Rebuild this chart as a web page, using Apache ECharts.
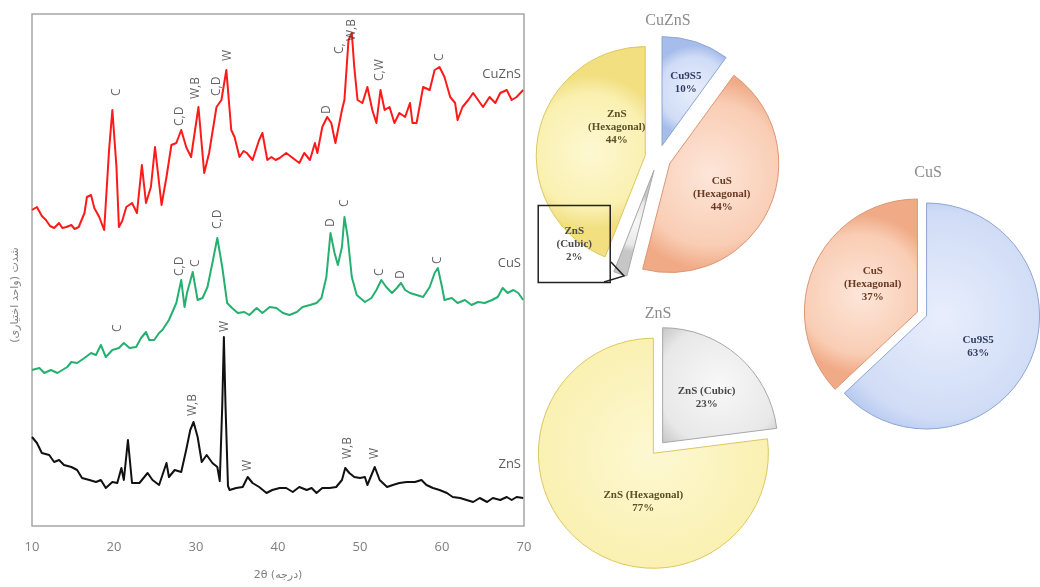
<!DOCTYPE html>
<html>
<head>
<meta charset="utf-8">
<script src="https://cdn.jsdelivr.net/npm/echarts@6.0.0/dist/echarts.min.js"></script>
<style>
  html, body { margin: 0; padding: 0; background: #fff; }
  #chart { width: 1040px; height: 587px; }
</style>
</head>
<body>
<div id="chart"></div>
<script>
// XRD patterns, [2θ, intensity] (arbitrary units, traces already stacked)
const cuznsXrd = [
  [10.0,316],[10.6,319],[11.2,310],[11.7,306],[12.2,300],[12.7,298],[13.3,303],[13.7,298],[14.2,299],[14.8,301],[15.2,297],[15.7,299],
  [16.4,313],[16.7,329],[17.2,331],[17.6,318],[18.2,309],[18.8,296],[19.4,376],[19.8,416],[20.3,359],[20.6,299],[21.0,305],[21.5,319],
  [22.2,323],[22.8,313],[23.4,361],[23.9,323],[24.5,339],[25.0,379],[25.4,350],[25.8,321],[26.4,349],[27.0,381],[27.6,383],[28.2,396],
  [28.8,379],[29.4,369],[30.3,419],[31.0,353],[31.6,373],[32.5,419],[33.1,426],[33.7,456],[34.3,396],[34.7,389],[35.3,369],[35.8,375],
  [36.2,373],[36.9,366],[37.7,386],[38.1,393],[38.7,366],[39.2,369],[39.7,366],[40.2,368],[41.0,373],[41.8,368],[42.6,363],[43.2,373],
  [43.9,366],[44.5,383],[44.8,373],[45.4,399],[46.0,409],[46.5,403],[47.0,383],[47.8,416],[48.1,426],[48.6,486],[49.0,493],[49.3,459],
  [49.7,426],[50.3,423],[50.9,439],[51.5,416],[52.0,403],[52.5,436],[53.0,416],[53.6,419],[54.2,403],[54.8,413],[55.5,409],[56.1,423],
  [56.4,403],[56.9,403],[57.7,439],[58.5,436],[59.1,456],[59.7,459],[60.3,449],[61.0,429],[61.6,423],[61.9,406],[62.5,419],[63.2,426],
  [63.8,433],[64.4,426],[65.0,419],[65.8,429],[66.5,423],[67.1,433],[67.9,436],[68.5,426],[69.1,429],[69.9,436]
];
const cusXrd = [
  [10.0,156],[10.9,158],[11.5,153],[12.3,156],[13.1,153],[13.7,156],[14.3,159],[14.8,164],[15.5,163],[16.4,168],[17.2,173],[17.8,171],
  [18.4,181],[19.0,169],[19.8,176],[20.6,178],[21.2,183],[21.9,178],[22.7,179],[23.3,188],[23.9,194],[24.3,186],[24.9,186],[25.5,193],
  [25.9,196],[26.7,206],[27.6,223],[28.2,246],[28.6,219],[28.9,233],[29.6,254],[30.2,226],[30.8,228],[31.4,239],[32.0,263],[32.6,288],
  [33.2,259],[33.8,223],[34.4,218],[35.1,213],[35.9,214],[36.5,211],[37.4,218],[38.1,213],[39.0,219],[39.8,218],[40.6,213],[41.4,211],
  [42.3,214],[43.0,219],[43.9,221],[44.7,223],[45.3,228],[45.9,249],[46.4,293],[46.9,273],[47.3,261],[47.8,279],[48.1,309],[48.5,289],
  [49.0,249],[49.6,231],[50.6,224],[51.4,228],[52.0,236],[52.6,246],[53.2,239],[53.9,233],[54.5,238],[55.0,243],[55.5,236],[56.1,233],
  [56.9,231],[57.7,229],[58.5,239],[59.1,253],[59.5,258],[60.0,239],[60.3,226],[61.2,228],[61.9,223],[62.8,226],[63.6,221],[64.4,224],
  [65.2,223],[66.1,226],[66.8,229],[67.4,238],[68.0,233],[68.7,236],[69.3,233],[69.9,226]
];
const znsXrd = [
  [10.0,89],[10.6,83],[11.2,73],[12.1,71],[12.7,64],[13.3,66],[13.9,61],[14.8,59],[15.5,56],[16.1,48],[17.0,46],[17.8,44],
  [18.4,46],[19.0,38],[19.8,44],[20.4,43],[20.9,58],[21.2,46],[21.7,86],[22.2,43],[23.1,43],[24.1,53],[24.7,46],[25.5,41],
  [26.4,63],[26.7,49],[27.4,56],[28.2,54],[28.8,76],[29.3,96],[29.7,104],[30.2,89],[30.7,64],[31.3,71],[32.0,63],[32.6,59],
  [32.9,45],[33.2,120],[33.4,189],[33.6,120],[33.9,40],[34.1,36],[34.9,38],[35.7,39],[36.3,49],[36.9,43],[37.7,39],[38.6,33],
  [39.3,36],[40.2,38],[41.0,38],[41.8,34],[42.6,39],[43.5,36],[44.1,38],[44.7,33],[45.4,38],[46.3,38],[47.1,39],[47.8,46],
  [48.2,58],[48.7,53],[49.3,49],[50.0,48],[50.6,49],[50.9,41],[51.8,59],[52.4,46],[53.3,39],[54.0,41],[54.8,43],[55.7,44],
  [56.7,44],[57.5,46],[58.1,41],[58.9,38],[59.7,36],[60.6,33],[61.3,29],[62.2,28],[63.0,26],[63.8,24],[64.6,28],[65.5,24],
  [66.2,28],[67.1,26],[67.9,29],[68.5,26],[69.1,29],[69.9,28]
];

// peak labels: [2θ, intensity at label foot, text]
const cuznsPeaks = [[20.3,429,'C'],[28.0,399,'C,D'],[30.0,426,'W,B'],[32.5,429,'C,D'],[33.8,464,'W'],[45.9,411,'D'],
  [47.5,471,'C,'],[49.0,484,'W,B'],[52.4,444,'C,W'],[59.7,464,'C']];
const cusPeaks = [[20.4,193,'C'],[28.0,249,'C,D'],[30.0,258,'C'],[32.6,296,'C,D'],[46.4,298,'D'],[48.1,318,'C'],
  [52.4,249,'C'],[55.0,246,'D'],[59.5,261,'C']];
const znsPeaks = [[29.6,109,'W,B'],[33.5,193,'W'],[36.3,54,'W'],[48.5,66,'W,B'],[51.8,66,'W']];
const traceNames = [[70,452,'CuZnS'],[70,263,'CuS'],[70,62,'ZnS']];

// phase fractions (%)
const cuznsPhases = ['Cu9S5', 'CuS\n(Hexagonal)', 'ZnS\n(Cubic)', 'ZnS\n(Hexagonal)'];
const cuznsShares = [10, 44, 2, 44];
const znsPhases = ['ZnS (Cubic)', 'ZnS (Hexagonal)'];
const znsShares = [23, 77];
const cusPhases = ['Cu9S5', 'CuS\n(Hexagonal)'];
const cusShares = [63, 37];

const palette = {
  'Cu9S5': { c: ['#e8eefc', '#d0dcf6', '#a6bdeb'], b: '#8ea6d4', t: '#2e3d63' },
  'CuS': { c: ['#fde6d9', '#f9cdb4', '#f0aa86'], b: '#dc9676', t: '#6a3b25' },
  'ZnSc': { c: ['#f8f8f8', '#e8e8e8', '#c6c6c6'], b: '#a8a8a8', t: '#4a4a4a' },
  'ZnSh': { c: ['#fdf8d2', '#faf0b0', '#f1df80'], b: '#dcc860', t: '#5a5128' }
};
function phaseKey(name) {
  if (name.startsWith('Cu9')) return 'Cu9S5';
  if (name.startsWith('CuS')) return 'CuS';
  return name.indexOf('Cubic') >= 0 ? 'ZnSc' : 'ZnSh';
}

const chart = echarts.init(document.getElementById('chart'));

function peakSeries(list) {
  return {
    type: 'scatter', data: list, symbolSize: 0, silent: true, z: 5,
    label: {
      show: true, position: 'top', distance: 1, rotate: 90, align: 'left', verticalAlign: 'middle',
      formatter: p => p.data[2], color: '#3a3a3a', fontSize: 12, fontFamily: 'Open Sans'
    }
  };
}

function lineSeries(data, color) {
  return {
    type: 'line', data: data, showSymbol: false, silent: true,
    lineStyle: { color: color, width: 2, join: 'round' }
  };
}

function pieSeries(names, shares, center, radius, offset, shifts) {
  return {
    type: 'pie', center: center, radius: radius, startAngle: 90, clockwise: true,
    selectedMode: 'multiple', selectedOffset: offset, avoidLabelOverlap: false, silent: true,
    label: {
      position: 'inside', formatter: p => p.name + '\n' + p.value + '%',
      fontFamily: 'Liberation Serif', fontWeight: 'bold', fontSize: 11, lineHeight: 13
    },
    labelLine: { show: false },
    labelLayout: p => shifts[p.dataIndex] || {},
    data: names.map((n, i) => {
      const pc = palette[phaseKey(n)];
      return {
        name: n, value: shares[i], selected: true,
        itemStyle: {
          color: new echarts.graphic.RadialGradient(0.5, 0.5, 0.7, [
            { offset: 0, color: pc.c[0] }, { offset: 0.75, color: pc.c[1] }, { offset: 1, color: pc.c[2] }
          ]),
          borderColor: pc.b, borderWidth: 1
        },
        label: { color: pc.t }
      };
    })
  };
}

const cuznsPie = pieSeries(cuznsPhases, cuznsShares, [658, 158], 109, 13, [
  { dx: 6, dy: -8 }, { dx: 0, dy: 6 }, { dx: -62, dy: 19 }, { dx: 28, dy: -18 }
]);
// the 2% slice gets a boxed callout
cuznsPie.data[2].label = {
  color: '#4a4a4a', borderColor: '#222', borderWidth: 1.5,
  padding: [19, 10], width: 52, align: 'center'
};

const titleStyle = { fontFamily: 'Liberation Serif', fontSize: 16, fontWeight: 'normal', color: '#8c8c8c' };

const option = {
  animation: false,
  backgroundColor: '#ffffff',
  title: [
    { text: 'CuZnS', left: 663, top: 8, textAlign: 'center', textStyle: titleStyle },
    { text: 'ZnS', left: 653, top: 301, textAlign: 'center', textStyle: titleStyle },
    { text: 'CuS', left: 923, top: 160, textAlign: 'center', textStyle: titleStyle }
  ],
  // pointer of the callout box
  graphic: [{
    type: 'polyline', silent: true, z: 100,
    shape: { points: [[611, 262], [624, 276], [604, 282]] },
    style: { stroke: '#222', lineWidth: 1.5, fill: null }
  }],
  grid: { left: 32, right: 516, top: 14, bottom: 61, show: true, borderColor: '#a6a6a6', borderWidth: 1.5 },
  xAxis: {
    type: 'value', min: 10, max: 70, interval: 10,
    axisLine: { show: false }, axisTick: { show: false }, splitLine: { show: false },
    axisLabel: { color: '#7f7f7f', fontSize: 13, margin: 15, fontFamily: 'Open Sans' },
    name: '2θ (درجه)', nameLocation: 'middle', nameGap: 44,
    nameTextStyle: { color: '#7f7f7f', fontSize: 11, fontFamily: 'DejaVu Sans' }
  },
  yAxis: {
    type: 'value', min: 0, max: 512,
    axisLine: { show: false }, axisTick: { show: false }, splitLine: { show: false }, axisLabel: { show: false },
    name: '\u200Fشدت (واحد اختیاری)\u200F', nameLocation: 'middle', nameGap: 11, nameRotate: 90,
    nameTextStyle: { color: '#7f7f7f', fontSize: 11, fontFamily: 'DejaVu Sans', padding: [0, 50, 0, 0] }
  },
  series: [
    lineSeries(cuznsXrd, '#ff1a1a'),
    lineSeries(cusXrd, '#26b070'),
    lineSeries(znsXrd, '#111111'),
    peakSeries(cuznsPeaks),
    peakSeries(cusPeaks),
    peakSeries(znsPeaks),
    {
      type: 'scatter', data: traceNames, symbolSize: 0, silent: true,
      label: { show: true, position: 'left', distance: 3, formatter: p => p.data[2], color: '#333', fontSize: 13, fontFamily: 'Open Sans' }
    },
    cuznsPie,
    pieSeries(znsPhases, znsShares, [658, 448], 115, 7, [{ dx: 4, dy: 0 }, { dx: 30, dy: 3 }]),
    pieSeries(cusPhases, cusShares, [922, 314], 113, 5, [{ dx: -3, dy: 7 }, { dx: 10, dy: -4 }])
  ]
};

chart.setOption(option);
</script>
</body>
</html>
